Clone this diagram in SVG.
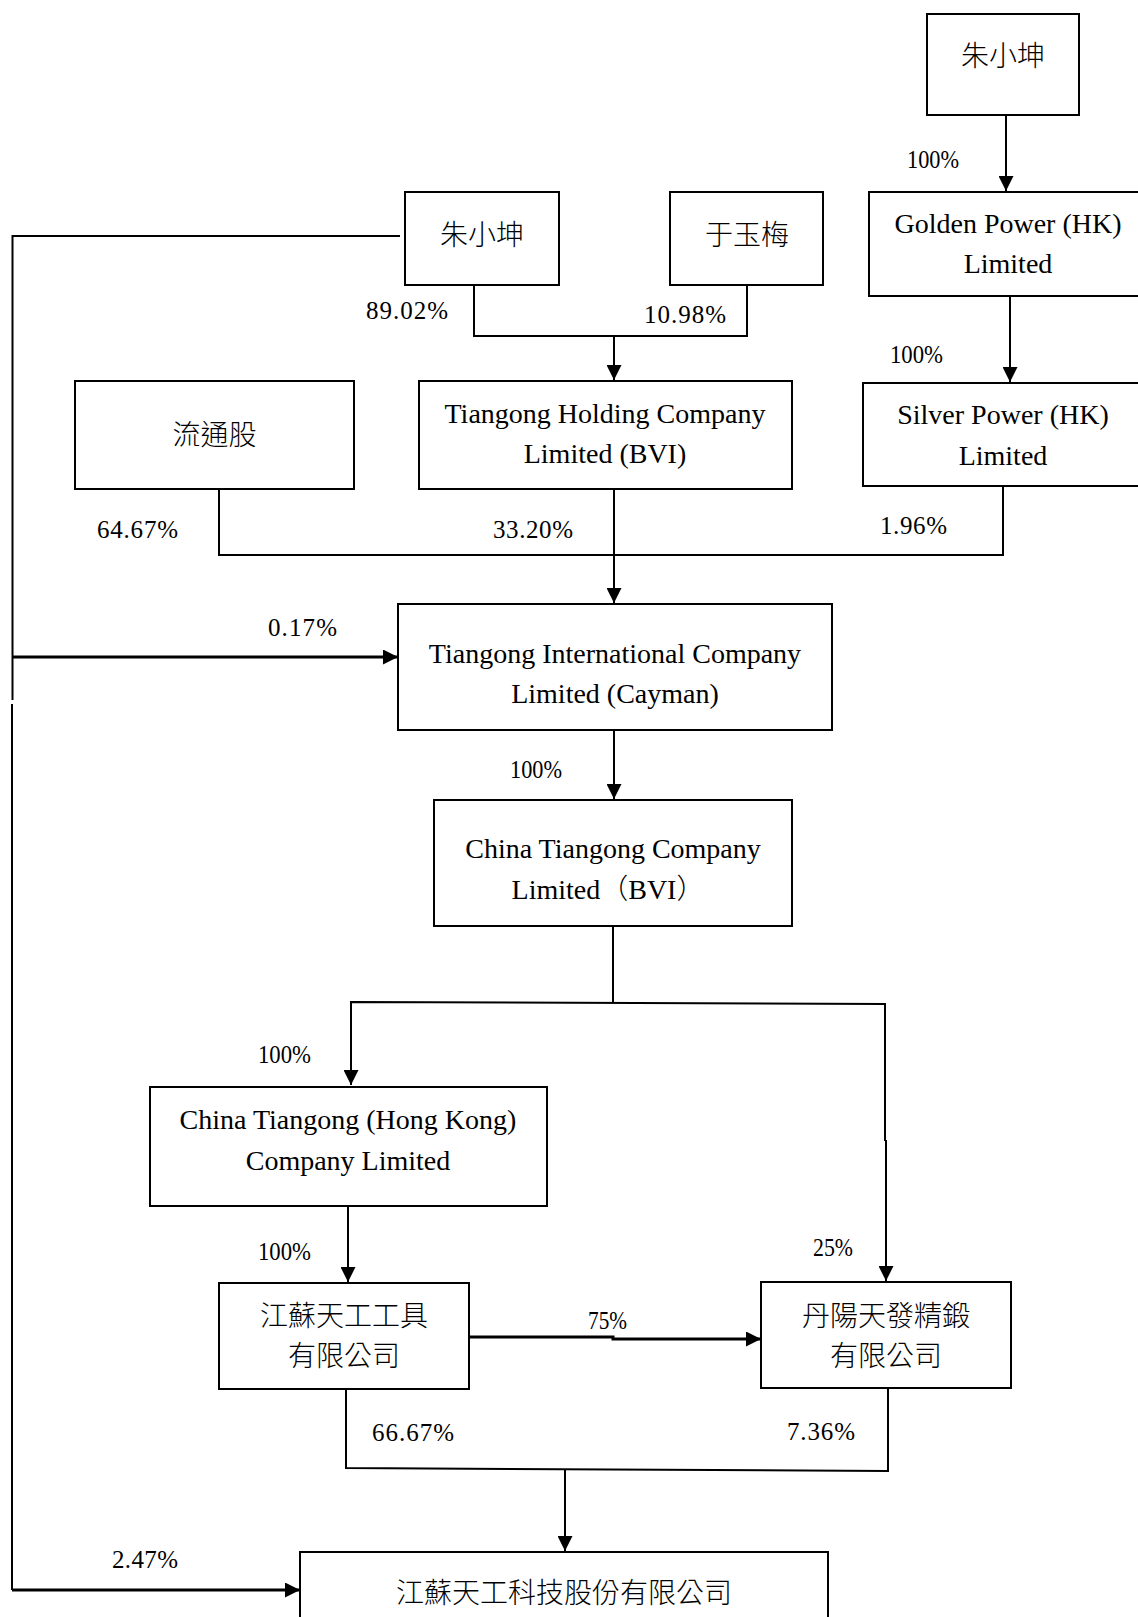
<svg xmlns="http://www.w3.org/2000/svg" width="1138" height="1617" viewBox="0 0 1138 1617">
<style>
.box{fill:#fff;stroke:#000;stroke-width:2}
.t{font-family:"Liberation Serif","Noto Sans CJK TC",serif;font-size:28px;font-weight:300;fill:#000;text-anchor:middle}
.p{font-family:"Liberation Serif","Noto Sans CJK TC",serif;font-size:25px;fill:#000}
.ln{fill:none;stroke:#000;stroke-width:2}
.tk{fill:none;stroke:#000;stroke-width:3}
</style>
<defs>
<marker id="ah" markerUnits="userSpaceOnUse" viewBox="0 0 16 16" refX="16" refY="8" markerWidth="16" markerHeight="15" orient="auto">
<path d="M0,0 L16,8 L0,16 z" fill="#000"/>
</marker>
</defs>
<rect width="1138" height="1617" fill="#fff"/>

<g id="connectors">
<line class="ln" x1="1006" y1="115" x2="1006" y2="191" marker-end="url(#ah)"/>
<line class="ln" x1="1010" y1="296" x2="1010" y2="382" marker-end="url(#ah)"/>
<polyline class="ln" points="400,236 12.5,236 12.5,700"/>
<polyline class="ln" points="12,704 12,1590"/>
<line class="tk" x1="12" y1="657" x2="398" y2="657" marker-end="url(#ah)"/>
<line class="tk" x1="12" y1="1590" x2="300" y2="1590" marker-end="url(#ah)"/>
<polyline class="ln" points="474,285 474,336 747,336 747,285"/>
<line class="ln" x1="614" y1="336" x2="614" y2="380" marker-end="url(#ah)"/>
<polyline class="ln" points="219,489 219,555 1003,555 1003,486"/>
<line class="ln" x1="614" y1="489" x2="614" y2="603" marker-end="url(#ah)"/>
<line class="ln" x1="614" y1="730" x2="614" y2="799" marker-end="url(#ah)"/>
<line class="ln" x1="613" y1="926" x2="613" y2="1003"/>
<polyline class="ln" points="351,1085 351,1002 885,1004 885,1140 886,1140"/>
<line class="ln" x1="351" y1="1010" x2="351" y2="1085" marker-end="url(#ah)"/>
<line class="ln" x1="886" y1="1140" x2="886" y2="1281" marker-end="url(#ah)"/>
<line class="ln" x1="348" y1="1206" x2="348" y2="1282" marker-end="url(#ah)"/>
<polyline class="tk" points="469,1337 613,1337 613,1339 700,1339"/>
<line class="tk" x1="700" y1="1339" x2="761" y2="1339" marker-end="url(#ah)"/>
<polyline class="ln" points="346,1389 346,1468 888,1471 888,1388"/>
<line class="ln" x1="565" y1="1470" x2="565" y2="1551" marker-end="url(#ah)"/>
</g>

<g id="labels">
<text class="p" x="907" y="168" textLength="52" lengthAdjust="spacingAndGlyphs">100%</text>
<text class="p" x="366" y="319" textLength="82">89.02%</text>
<text class="p" x="644" y="323" textLength="82">10.98%</text>
<text class="p" x="890" y="363" textLength="53" lengthAdjust="spacingAndGlyphs">100%</text>
<text class="p" x="97" y="538" textLength="81">64.67%</text>
<text class="p" x="493" y="538" textLength="80">33.20%</text>
<text class="p" x="880" y="534" textLength="67">1.96%</text>
<text class="p" x="268" y="636" textLength="69">0.17%</text>
<text class="p" x="510" y="778" textLength="52" lengthAdjust="spacingAndGlyphs">100%</text>
<text class="p" x="258" y="1063" textLength="53" lengthAdjust="spacingAndGlyphs">100%</text>
<text class="p" x="258" y="1260" textLength="53" lengthAdjust="spacingAndGlyphs">100%</text>
<text class="p" x="813" y="1256" textLength="40" lengthAdjust="spacingAndGlyphs">25%</text>
<text class="p" x="588" y="1329" textLength="39" lengthAdjust="spacingAndGlyphs">75%</text>
<text class="p" x="372" y="1441" textLength="82">66.67%</text>
<text class="p" x="787" y="1440" textLength="68">7.36%</text>
<text class="p" x="112" y="1568" textLength="66">2.47%</text>
</g>

<g id="n-zhu-top">
<rect class="box" x="927" y="14" width="152" height="101"/>
<text class="t" x="1003" y="66">朱小坤</text>
</g>
<g id="n-golden">
<rect class="box" x="869" y="192" width="272" height="104"/>
<text class="t" x="1008" y="233">Golden Power (HK)</text>
<text class="t" x="1008" y="273">Limited</text>
</g>
<g id="n-zhu">
<rect class="box" x="405" y="192" width="154" height="93"/>
<text class="t" x="482" y="245">朱小坤</text>
</g>
<g id="n-yu">
<rect class="box" x="670" y="192" width="153" height="93"/>
<text class="t" x="747" y="245">于玉梅</text>
</g>
<g id="n-float">
<rect class="box" x="75" y="381" width="279" height="108"/>
<text class="t" x="214.5" y="445">流通股</text>
</g>
<g id="n-holding">
<rect class="box" x="419" y="381" width="373" height="108"/>
<text class="t" x="605" y="423">Tiangong Holding Company</text>
<text class="t" x="605" y="463">Limited (BVI)</text>
</g>
<g id="n-silver">
<rect class="box" x="863" y="383" width="278" height="103"/>
<text class="t" x="1003" y="424">Silver Power (HK)</text>
<text class="t" x="1003" y="465">Limited</text>
</g>
<g id="n-cayman">
<rect class="box" x="398" y="604" width="434" height="126"/>
<text class="t" x="615" y="663">Tiangong International Company</text>
<text class="t" x="615" y="703">Limited (Cayman)</text>
</g>
<g id="n-bvi">
<rect class="box" x="434" y="800" width="358" height="126"/>
<text class="t" x="613" y="858">China Tiangong Company</text>
<text class="t" x="608" y="899">Limited（BVI）</text>
</g>
<g id="n-hk">
<rect class="box" x="150" y="1087" width="397" height="119"/>
<text class="t" x="348" y="1129">China Tiangong (Hong Kong)</text>
<text class="t" x="348" y="1170">Company Limited</text>
</g>
<g id="n-tools">
<rect class="box" x="219" y="1283" width="250" height="106"/>
<text class="t" x="344" y="1326">江蘇天工工具</text>
<text class="t" x="344" y="1366">有限公司</text>
</g>
<g id="n-danyang">
<rect class="box" x="761" y="1282" width="250" height="106"/>
<text class="t" x="886" y="1326">丹陽天發精鍛</text>
<text class="t" x="886" y="1366">有限公司</text>
</g>
<g id="n-tech">
<rect class="box" x="300" y="1552" width="528" height="80"/>
<text class="t" x="564" y="1603">江蘇天工科技股份有限公司</text>
</g>
</svg>
